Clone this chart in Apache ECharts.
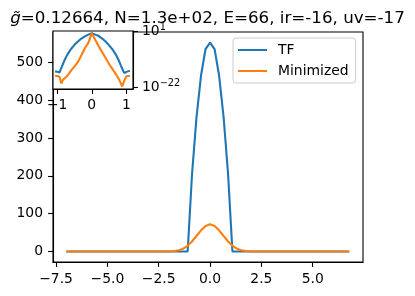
<!DOCTYPE html>
<html>
<head>
<meta charset="utf-8">
<script src="https://cdn.jsdelivr.net/npm/echarts@6/dist/echarts.min.js"></script>
<style>
  html, body { margin: 0; padding: 0; background: #fff; }
  #chart { width: 415px; height: 296px; }
</style>
</head>
<body>
<div id="chart"></div>
<script>
  // main panel: positions on the grid and the two densities
  var xGrid = [-7, -6.78, -6.56, -6.34, -6.13, -5.91, -5.69, -5.47, -5.25, -5.03,
    -4.81, -4.59, -4.38, -4.16, -3.94, -3.72, -3.5, -3.28, -3.06, -2.84,
    -2.63, -2.41, -2.19, -1.97, -1.75, -1.53, -1.31, -1.09, -0.88, -0.66,
    -0.44, -0.22, 0, 0.22, 0.44, 0.66, 0.88, 1.09, 1.31, 1.53,
    1.75, 1.97, 2.19, 2.41, 2.63, 2.84, 3.06, 3.28, 3.5, 3.72,
    3.94, 4.16, 4.38, 4.59, 4.81, 5.03, 5.25, 5.47, 5.69, 5.91,
    6.13, 6.34, 6.56, 6.78];
  var tfDensity = [0, 0, 0, 0, 0, 0, 0, 0, 0, 0,
    0, 0, 0, 0, 0, 0, 0, 0, 0, 0,
    0, 0, 0, 0, 0, 0, 0, 0, 203, 355,
    465, 535, 552, 535, 465, 355, 203, 0, 0, 0,
    0, 0, 0, 0, 0, 0, 0, 0, 0, 0,
    0, 0, 0, 0, 0, 0, 0, 0, 0, 0,
    0, 0, 0, 0];
  var minimizedDensity = [0, 0, 0, 0, 0, 0, 0, 0, 0, 0,
    0, 0, 0, 0, 0, 0, 0, 0, 0, 0,
    0, 0, 0.1, 0.5, 1.3, 3.4, 7.7, 15.2, 26.6, 41.1,
    56.1, 67.7, 72, 67.7, 56.1, 41.1, 26.6, 15.2, 7.7, 3.4,
    1.3, 0.5, 0.1, 0, 0, 0, 0, 0, 0, 0,
    0, 0, 0, 0, 0, 0, 0, 0, 0, 0,
    0, 0, 0, 0];
  var xTicks = [-7.5, -5, -2.5, 0, 2.5, 5];
  var yTicks = [0, 100, 200, 300, 400, 500];

  // inset: log10 of the two curves near the centre
  var insetX = [-1.06, -1.0, -0.93, -0.88, -0.83, -0.78, -0.7, -0.6, -0.5, -0.4,
    -0.3, -0.2, -0.1, 0, 0.1, 0.2, 0.3, 0.4, 0.5, 0.6,
    0.7, 0.78, 0.84, 0.88, 0.94, 1.0, 1.1];
  var insetTfLog = [-15.3, -15.45, -15.7, -13.9, -12.2, -10.5, -8.3, -6.1, -4.4, -3.0,
    -1.8, -0.9, -0.2, 0.35, -0.2, -0.8, -1.8, -3.0, -4.6, -6.3,
    -8.5, -10.8, -12.9, -14.2, -16.0, -15.5, -15.0];
  var insetMinLog = [-17.1, -17.2, -17.5, -20.3, -18.7, -18.0, -17.0, -15.0, -13.3, -11.4,
    -8.7, -5.8, -3.6, 0.35, -2.3, -5.0, -7.4, -9.8, -12.3, -14.4,
    -16.5, -18.4, -20.2, -21.5, -19.0, -17.3, -17.1];
  var insetXTicks = [-1, 0, 1];
  var insetYTicks = [-22, 1];

  var FONT = 'DejaVu Sans';
  var minus = function (s) { return String(s).replace('-', '\u2212'); };
  var pairs = function (xs, ys) { return xs.map(function (x, i) { return [x, ys[i]]; }); };

  var chart = echarts.init(document.getElementById('chart'), null, { renderer: 'canvas' });

  var spine = { color: '#000', width: 1.1 };

  var option = {
    animation: false,
    backgroundColor: '#fff',
    title: {
      text: '{i|g\u0303}=0.12664, N=1.3e+02, E=66, ir=-16, uv=-17',
      left: 'center',
      top: 5,
      textStyle: {
        fontFamily: FONT, fontSize: 16.7, fontWeight: 'normal', color: '#000',
        rich: { i: { fontFamily: FONT, fontSize: 16.7, fontStyle: 'italic', color: '#000' } }
      }
    },
    legend: {
      data: ['TF', 'Minimized'],
      orient: 'vertical',
      left: 233,
      top: 38,
      icon: 'rect',
      itemWidth: 29,
      itemHeight: 2,
      itemGap: 7,
      padding: [5, 7, 5, 5],
      borderColor: '#cccccc',
      borderWidth: 1,
      borderRadius: 3,
      backgroundColor: 'rgba(255,255,255,0.8)',
      textStyle: { fontFamily: FONT, fontSize: 13.9, color: '#000', lineHeight: 14, padding: [0, 0, 0, 6] }
    },
    grid: [
      { left: 53, top: 32, width: 310, height: 230, show: true, borderColor: '#000', borderWidth: 1.1, backgroundColor: '#fff' },
      { left: 53, top: 31, width: 80, height: 58, show: true, borderColor: '#000', borderWidth: 1.1, backgroundColor: '#fff', z: 10 }
    ],
    xAxis: [
      {
        type: 'value', gridIndex: 0, min: -7.65, max: 7.45,
        axisLine: { onZero: false, lineStyle: spine },
        axisTick: { customValues: xTicks, length: 4.9, lineStyle: spine },
        axisLabel: {
          customValues: xTicks, margin: 10, fontFamily: FONT, fontSize: 13.9, color: '#000',
          formatter: function (v) { return minus(v.toFixed(1)); }
        },
        splitLine: { show: false }
      },
      {
        type: 'value', gridIndex: 1, min: -1.12, max: 1.19, z: 11,
        axisLine: { onZero: false, lineStyle: spine },
        axisTick: { customValues: insetXTicks, length: 4.9, lineStyle: spine },
        axisLabel: {
          customValues: insetXTicks, margin: 9, fontFamily: FONT, fontSize: 13.9, color: '#000',
          formatter: function (v) { return minus(v); }
        },
        splitLine: { show: false }
      }
    ],
    yAxis: [
      {
        type: 'value', gridIndex: 0, min: -27.6, max: 580,
        axisLine: { onZero: false, lineStyle: spine },
        axisTick: { customValues: yTicks, length: 4.9, lineStyle: spine },
        axisLabel: { customValues: yTicks, margin: 10, fontFamily: FONT, fontSize: 13.9, color: '#000' },
        splitLine: { show: false }
      },
      {
        type: 'value', gridIndex: 1, position: 'right', min: -22.53, max: 1.29, z: 11,
        axisLine: { onZero: false, lineStyle: spine },
        axisTick: { customValues: insetYTicks, length: 4.9, lineStyle: spine },
        axisLabel: {
          customValues: insetYTicks, margin: 9, fontFamily: FONT, fontSize: 13.9, color: '#000',
          formatter: function (v) { return '10{s|' + minus(v) + '}'; },
          rich: { s: { fontFamily: FONT, fontSize: 9.7, color: '#000', padding: [0, 0, 9, 0] } }
        },
        splitLine: { show: false }
      }
    ],
    series: [
      {
        name: 'TF', type: 'line', xAxisIndex: 0, yAxisIndex: 0,
        data: pairs(xGrid, tfDensity), showSymbol: false, color: '#1f77b4',
        lineStyle: { width: 2.1, color: '#1f77b4' }
      },
      {
        name: 'Minimized', type: 'line', xAxisIndex: 0, yAxisIndex: 0,
        data: pairs(xGrid, minimizedDensity), showSymbol: false, color: '#ff7f0e',
        lineStyle: { width: 2.1, color: '#ff7f0e' }
      },
      {
        name: 'TF', type: 'line', xAxisIndex: 1, yAxisIndex: 1, z: 12,
        data: pairs(insetX, insetTfLog), showSymbol: false, color: '#1f77b4',
        lineStyle: { width: 2.1, color: '#1f77b4' }
      },
      {
        name: 'Minimized', type: 'line', xAxisIndex: 1, yAxisIndex: 1, z: 12,
        data: pairs(insetX, insetMinLog), showSymbol: false, color: '#ff7f0e',
        lineStyle: { width: 2.1, color: '#ff7f0e' }
      }
    ]
  };

  chart.setOption(option);
</script>
</body>
</html>
